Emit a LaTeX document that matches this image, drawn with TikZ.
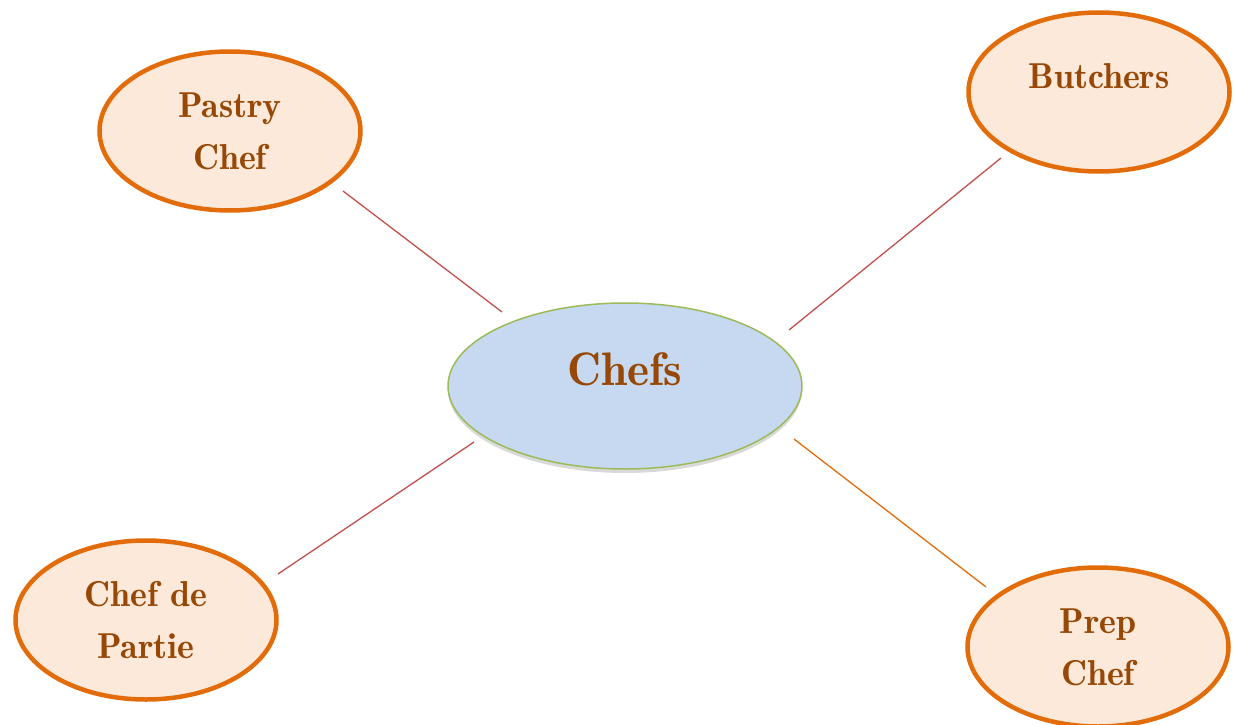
\documentclass[tikz,border=0pt]{standalone}
\usetikzlibrary{shapes.geometric,shadows}
\definecolor{bubedge}{HTML}{E36C0A}
\definecolor{bubfill}{HTML}{FDE9D9}
\definecolor{bubtextcol}{HTML}{974806}
\definecolor{hubfill}{HTML}{C6D9F1}
\definecolor{hubedge}{HTML}{9BBB59}
\definecolor{linkred}{HTML}{C0504D}
\tikzset{
  bubble/.style={ellipse, draw=bubedge, fill=bubfill, line width=4.5pt,
    minimum width=261pt, minimum height=159pt, inner sep=0pt,
    text=bubtextcol, align=center, font=\fontsize{36}{52}\fontseries{b}\selectfont},
  hub/.style={ellipse, draw=hubedge, fill=hubfill, line width=1.5pt,
    minimum width=354pt, minimum height=166pt, inner sep=0pt,
    drop shadow={shadow xshift=0pt, shadow yshift=-4pt, opacity=.25, fill=black!60}},
  bubtext/.style={text=bubtextcol, font=\fontsize{36}{52}\fontseries{b}\selectfont},
  hubtext/.style={text=bubtextcol, font=\fontsize{47}{52}\fontseries{b}\selectfont},
  link/.style={draw=linkred, line width=1.3pt}
}
\begin{document}
\begin{tikzpicture}[x=1pt, y=-1pt]
\useasboundingbox (0,0) rectangle (1235,725);
% centre node
\node[hub, label={[hubtext, yshift=17pt]center:Chefs}] (chefs) at (625,386) {};
% outer nodes
\node[bubble] (pastry) at (230,131) {Pastry\\Chef};
\node[bubble, label={[bubtext, yshift=16pt]center:Butchers}] (butchers) at (1099,92) {};
\node[bubble] (partie) at (146,620) {Chef de\\Partie};
\node[bubble] (prep) at (1098,647) {Prep\\Chef};
% connector ends
\coordinate (pastryend) at (343,191);
\coordinate (chefsnw) at (502,312);
\coordinate (butchersend) at (1001,158);
\coordinate (chefsne) at (789,330);
\coordinate (partieend) at (278,574);
\coordinate (chefssw) at (474,442);
\coordinate (prepend) at (986,587);
\coordinate (chefsse) at (794,439);
\draw[link] (pastryend) -- (chefsnw);
\draw[link] (chefsne) -- (butchersend);
\draw[link] (chefssw) -- (partieend);
\draw[link, draw=bubedge] (chefsse) -- (prepend);
\end{tikzpicture}
\end{document}
